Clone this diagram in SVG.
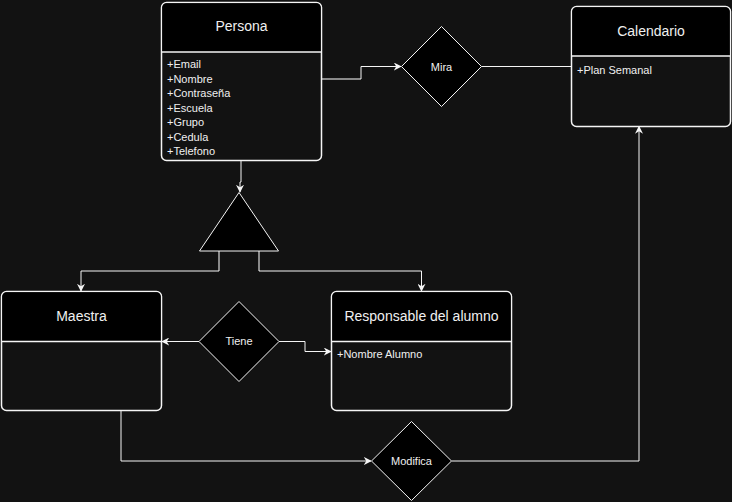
<svg xmlns="http://www.w3.org/2000/svg" width="732" height="502" viewBox="0 0 732 502">
<style>
.bg{fill:#121212}
.box{fill:#121212;stroke:#f5f5f5;stroke-width:1.5}
.hdr{fill:#000;stroke:none}
.div{stroke:#f5f5f5;stroke-width:1.5}
.shape{fill:#000;stroke:#f5f5f5;stroke-width:1}
.ttl{font-family:"Liberation Sans",Arial,sans-serif;font-size:14px;fill:#f0f0f0;text-anchor:middle;dominant-baseline:central}
.lbl{font-family:"Liberation Sans",Arial,sans-serif;font-size:11px;fill:#f0f0f0;text-anchor:middle;dominant-baseline:central}
.att{font-family:"Liberation Sans",Arial,sans-serif;font-size:11px;fill:#f0f0f0;dominant-baseline:central}
.ln{fill:none;stroke:#f5f5f5;stroke-width:1}
.gl{fill:none;stroke:#8a8a8a;stroke-width:2}
</style>
<defs>
<marker id="arr" viewBox="0 0 10 10" refX="9" refY="5" markerWidth="8" markerHeight="8" markerUnits="userSpaceOnUse" orient="auto">
<path d="M0,0 L10,5 L0,10 L3,5 Z" fill="#f5f5f5"/>
</marker>
</defs>
<rect class="bg" x="0" y="0" width="732" height="502"/>

<g id="connectors">
<polyline class="gl" points="321,79 361,79"/>
<polyline class="ln" points="361,79 361,66.5 401,66.5" marker-end="url(#arr)"/>
<polyline class="ln" points="481.5,66.5 572,66.5"/>
<path d="M576,56 L584,58 L576,60 Z" fill="#f5f5f5"/>
<polyline class="ln" points="241,160 241,182 240,182 240,192" marker-end="url(#arr)"/>
<polyline class="gl" points="219,251 219,271"/>
<polyline class="ln" points="219,271 81,271 81,291" marker-end="url(#arr)"/>
<polyline class="gl" points="259,251 259,271"/>
<polyline class="ln" points="259,271 421.5,271 421.5,291" marker-end="url(#arr)"/>
<polyline class="ln" points="199,341.5 162,341.5" marker-end="url(#arr)"/>
<polyline class="ln" points="279,341.5 305,341.5 305,351.5 331,351.5" marker-end="url(#arr)"/>
<polyline class="ln" points="121,411 121,461 371,461" marker-end="url(#arr)"/>
<polyline class="ln" points="451.5,461 639,461 639,126.5" marker-end="url(#arr)"/>
</g>

<g id="persona">
<rect class="box" x="161.5" y="2.5" width="160" height="158" rx="5"/>
<path class="hdr" d="M162.3,52 V7.5 a4.2,4.2 0 0 1 4.2,-4.2 H316.5 a4.2,4.2 0 0 1 4.2,4.2 V52 Z"/>
<line class="div" x1="161.5" y1="52" x2="321.5" y2="52"/>
<text class="ttl" x="241.5" y="26">Persona</text>
<text class="att" x="167" y="64">+Email</text>
<text class="att" x="167" y="78.5">+Nombre</text>
<text class="att" x="167" y="93">+Contraseña</text>
<text class="att" x="167" y="107.5">+Escuela</text>
<text class="att" x="167" y="122">+Grupo</text>
<text class="att" x="167" y="136.5">+Cedula</text>
<text class="att" x="167" y="151">+Telefono</text>
</g>

<g id="mira">
<polygon class="shape" points="441.5,26.5 481.5,66.5 441.5,106.5 401.5,66.5"/>
<text class="lbl" x="441.5" y="66.5">Mira</text>
</g>

<g id="calendario">
<rect class="box" x="571.5" y="6.5" width="159" height="120" rx="5"/>
<path class="hdr" d="M572.3,56 V11.5 a4.2,4.2 0 0 1 4.2,-4.2 H725.5 a4.2,4.2 0 0 1 4.2,4.2 V56 Z"/>
<line class="div" x1="571.5" y1="56" x2="730.5" y2="56"/>
<text class="ttl" x="651" y="31">Calendario</text>
<text class="att" x="577" y="70">+Plan Semanal</text>
</g>

<g id="herencia">
<polygon class="shape" points="239,192.5 278.5,251 199.5,251"/>
</g>

<g id="maestra">
<rect class="box" x="1.5" y="291.5" width="160" height="119" rx="5"/>
<path class="hdr" d="M2.3,341.5 V296.5 a4.2,4.2 0 0 1 4.2,-4.2 H156.5 a4.2,4.2 0 0 1 4.2,4.2 V341.5 Z"/>
<line class="div" x1="1.5" y1="341.5" x2="161.5" y2="341.5"/>
<text class="ttl" x="81.5" y="316">Maestra</text>
</g>

<g id="tiene">
<polygon class="shape" points="239,301.5 279,341.5 239,381.5 199,341.5"/>
<text class="lbl" x="239" y="341">Tiene</text>
</g>

<g id="responsable">
<rect class="box" x="331.5" y="291.5" width="180" height="119" rx="5"/>
<path class="hdr" d="M332.3,341.5 V296.5 a4.2,4.2 0 0 1 4.2,-4.2 H506.5 a4.2,4.2 0 0 1 4.2,4.2 V341.5 Z"/>
<line class="div" x1="331.5" y1="341.5" x2="511.5" y2="341.5"/>
<text class="ttl" x="421.5" y="316">Responsable del alumno</text>
<text class="att" x="337" y="354">+Nombre Alumno</text>
</g>

<g id="modifica">
<polygon class="shape" points="411.5,421.5 451.5,461 411.5,500.5 371.5,461"/>
<text class="lbl" x="411.5" y="461">Modifica</text>
</g>
</svg>
